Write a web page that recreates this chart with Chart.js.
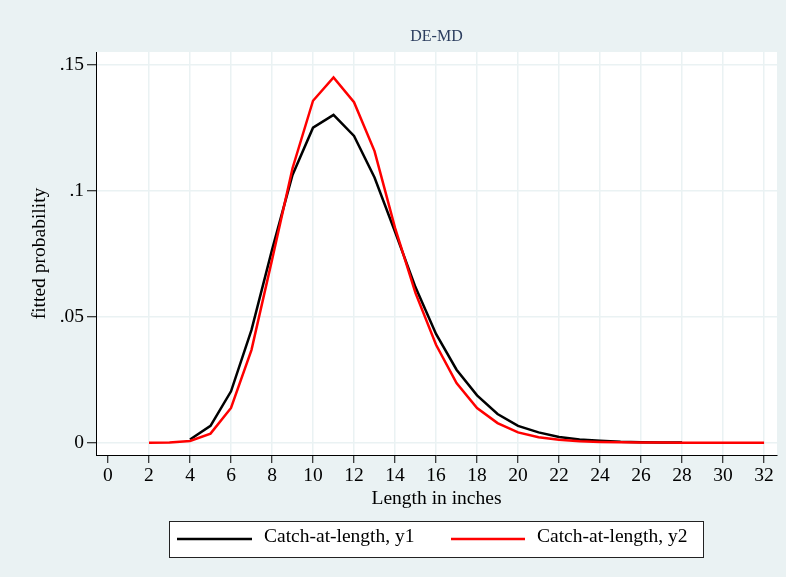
<!DOCTYPE html>
<html>
<head>
<meta charset="utf-8">
<script src="https://cdn.jsdelivr.net/npm/chart.js@4"></script>
<style>
  html, body { margin: 0; padding: 0; background: #EAF2F3; }
  canvas { display: block; }
</style>
</head>
<body>
<canvas id="c" width="786" height="577"></canvas>
<script>
const chartTitle = 'DE-MD';
const xAxisTitle = 'Length in inches';
const yAxisTitle = 'fitted probability';
const seriesNames = ['Catch-at-length, y1', 'Catch-at-length, y2'];

const lengthsY1 = [4,5,6,7,8,9,10,11,12,13,14,15,16,17,18,19,20,21,22,23,24,25,26,27,28];
const valuesY1 = [0.0013,0.0067,0.0204,0.0448,0.0766,0.1063,0.1251,0.1302,0.1218,0.1053,0.0838,0.0617,0.0432,0.0290,0.0188,0.0114,0.0067,0.0041,0.0023,0.0013,0.0008,0.0004,0.0002,0.0001,0.0001];

const lengthsY2 = [2,3,4,5,6,7,8,9,10,11,12,13,14,15,16,17,18,19,20,21,22,23,24,25,26,27,28,29,30,31,32];
const valuesY2 = [0.0000,0.0001,0.0007,0.0036,0.0138,0.0369,0.0726,0.1090,0.1358,0.1451,0.1352,0.1158,0.0853,0.0594,0.0389,0.0237,0.0138,0.0078,0.0041,0.0022,0.0012,0.0006,0.0003,0.00015,0.0001,0.00005,0.00002,0.00001,0,0,0];

const xTicks = [0,2,4,6,8,10,12,14,16,18,20,22,24,26,28,30,32];
const yTicks = [0,0.05,0.1,0.15];
const yTickLabels = ['0','.05','.1','.15'];

const SERIF = '"Liberation Serif", "Times New Roman", serif';
const BG = '#EAF2F3';

const decor = {
  id: 'decor',
  beforeDraw(chart) {
    const ctx = chart.ctx, a = chart.chartArea;
    ctx.save();
    ctx.fillStyle = BG;
    ctx.fillRect(0, 0, chart.width, chart.height);
    ctx.fillStyle = '#FFFFFF';
    ctx.fillRect(a.left, a.top, a.right - a.left, a.bottom - a.top);
    ctx.restore();
  },
  afterDraw(chart) {
    const ctx = chart.ctx, a = chart.chartArea;
    ctx.save();
    // title
    ctx.font = '16px ' + SERIF;
    ctx.fillStyle = '#2b3d5e';
    ctx.textAlign = 'center';
    ctx.textBaseline = 'middle';
    ctx.fillText(chartTitle, (a.left + a.right) / 2, 37);
    // legend box
    const bx = 169, by = 521, bw = 534, bh = 36;
    ctx.fillStyle = '#FFFFFF';
    ctx.fillRect(bx, by, bw, bh);
    ctx.strokeStyle = '#222';
    ctx.lineWidth = 1;
    ctx.strokeRect(bx + 0.5, by + 0.5, bw, bh);
    const items = [
      {x0: 177, x1: 252, tx: 264},
      {x0: 451, x1: 525, tx: 537}
    ];
    ctx.font = '19.5px ' + SERIF;
    ctx.textAlign = 'left';
    ctx.textBaseline = 'middle';
    chart.data.datasets.forEach((ds, i) => {
      const it = items[i];
      ctx.strokeStyle = ds.borderColor;
      ctx.lineWidth = ds.borderWidth;
      ctx.beginPath();
      ctx.moveTo(it.x0, 539);
      ctx.lineTo(it.x1, 539);
      ctx.stroke();
      ctx.fillStyle = '#000';
      ctx.fillText(ds.label, it.tx, 537);
    });
    ctx.restore();
  }
};

new Chart(document.getElementById('c'), {
  type: 'line',
  data: {
    datasets: [
      {
        label: seriesNames[0],
        data: lengthsY1.map((x, i) => ({x: x, y: valuesY1[i]})),
        borderColor: '#000000',
        borderWidth: 2.5,
        pointRadius: 0,
        fill: false,
        tension: 0,
        order: 1
      },
      {
        label: seriesNames[1],
        data: lengthsY2.map((x, i) => ({x: x, y: valuesY2[i]})),
        borderColor: '#FF0000',
        borderWidth: 2.5,
        pointRadius: 0,
        fill: false,
        tension: 0,
        order: 0
      }
    ]
  },
  options: {
    responsive: false,
    animation: false,
    devicePixelRatio: 1,
    layout: { padding: { top: 52, right: 9, bottom: 62, left: 0 } },
    plugins: {
      legend: { display: false },
      title: { display: false },
      tooltip: { enabled: false }
    },
    scales: {
      x: {
        type: 'linear',
        min: -0.585,
        max: 32.63,
        afterBuildTicks: s => { s.ticks = xTicks.map(v => ({value: v})); },
        afterFit: s => { s.height = 60; },
        ticks: {
          font: { family: SERIF, size: 19.5 },
          color: '#000',
          padding: 1,
          maxRotation: 0,
          autoSkip: false,
          callback: v => String(v)
        },
        grid: {
          color: c => (c.tick && c.tick.value === 0) ? 'rgba(0,0,0,0)' : BG,
          lineWidth: 1.5,
          tickColor: '#000',
          tickLength: 8,
          tickWidth: 1
        },
        border: { color: '#000', width: 1 },
        title: {
          display: true,
          text: xAxisTitle,
          color: '#000',
          font: { family: SERIF, size: 19.5 },
          padding: { top: 0, bottom: 4 }
        }
      },
      y: {
        type: 'linear',
        min: -0.00488,
        max: 0.15516,
        afterBuildTicks: s => { s.ticks = yTicks.map(v => ({value: v})); },
        afterFit: s => { s.width = 96; },
        ticks: {
          font: { family: SERIF, size: 19.5 },
          color: '#000',
          padding: 3,
          autoSkip: false,
          callback: (v, i) => yTickLabels[i]
        },
        grid: {
          color: BG,
          lineWidth: 1.5,
          tickColor: '#000',
          tickLength: 9,
          tickWidth: 1
        },
        border: { color: '#000', width: 1 },
        title: {
          display: true,
          text: yAxisTitle,
          color: '#000',
          font: { family: SERIF, size: 19.5 },
          padding: { top: 28, bottom: 0 }
        }
      }
    }
  },
  plugins: [decor]
});
</script>
</body>
</html>
